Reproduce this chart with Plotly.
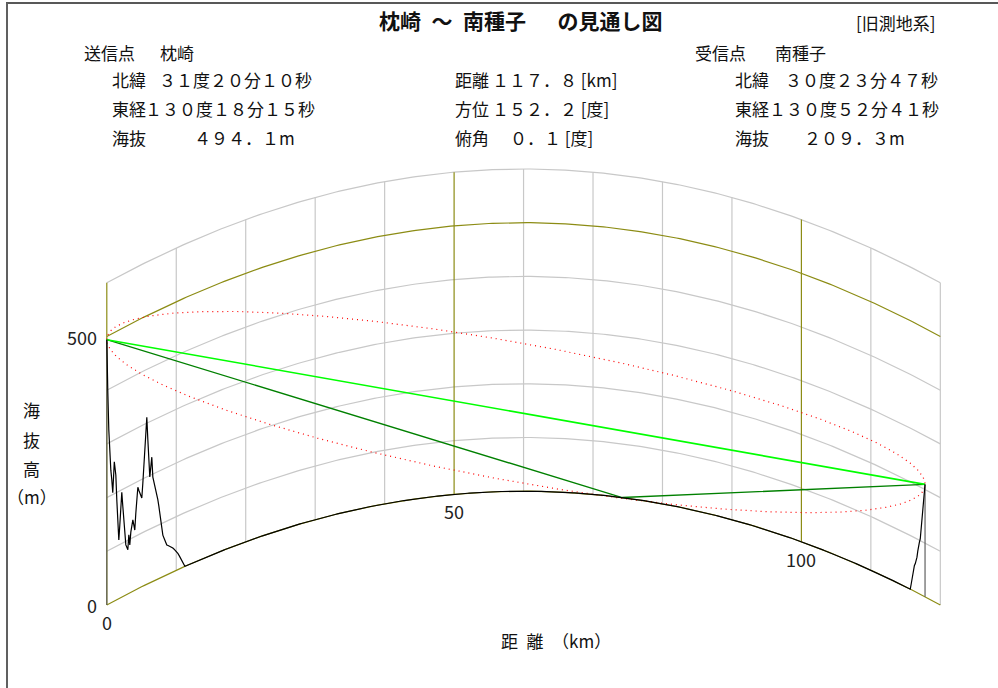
import math
import numpy as np
import plotly.graph_objects as go

# ---------------- data ----------------
path_km = 117.8            # 距離
tx_alt_m = 494.1           # 送信点 海抜
rx_alt_m = 209.3           # 受信点 海抜
freq_mhz = 520.0           # Fresnel zone frequency (estimated from ellipse size)
reflection_km = 74.2       # sea-reflection point of the dark-green path

terrain_km = [0.0, 0.07, 0.14, 0.29, 0.43, 0.58, 0.72, 0.86, 1.08, 1.30,
              1.44, 1.73, 2.02, 2.16, 2.45, 2.74, 3.03, 3.17, 3.31, 3.46,
              3.75, 4.03, 4.32, 4.47, 4.75, 5.04, 5.19, 5.47, 5.76, 5.91,
              6.19, 6.48, 6.63, 7.20, 7.64, 8.07, 8.64, 9.36, 9.80, 10.23,
              10.80, 11.24,
              115.67, 115.92, 116.15, 116.39, 116.64, 116.87, 117.11, 117.36,
              117.59, 117.73, 117.8]
terrain_m = [494.1, 422, 399, 324, 267, 247, 228, 203, 259, 233,
             186, 109, 163, 195, 141, 93, 82, 109, 89, 112,
             133, 112, 172, 189, 176, 165, 192, 252, 311, 268,
             197, 232, 194, 161, 121, 77, 55, 47, 39, 30,
             14, 0,
             0, 19, 44, 52, 66, 90, 103, 140,
             166, 185, 209.3]

grid_km = [0, 10, 20, 30, 40, 50, 60, 70, 80, 90, 100, 110, 120]
grid_m = [0, 100, 200, 300, 400, 500, 600]
major_km = [0, 50, 100]
major_m = [0, 500]
xtick_km = [0, 50, 100]
xtick_text = ["0", "50", "100"]
ytick_m = [0, 500]
ytick_text = ["0", "500"]

title_text = "<b>枕崎\u2002～\u2002南種子\u3000\u2002の見通し図</b>"
datum_text = "[旧測地系]"
tx_label = ("送信点", "枕崎")
rx_label = ("受信点", "南種子")
tx_rows = [("北緯", "３１度２０分１０秒"), ("東経", "１３０度１８分１５秒"), ("海抜", "４９４．１m")]
mid_rows = [("距離", "１１７．８ [km]"), ("方位", "１５２．２ [度]"), ("俯角", "０．１ [度]")]
rx_rows = [("北緯", "３０度２３分４７秒"), ("東経", "１３０度５２分４１秒"), ("海抜", "２０９．３m")]
ytitle_chars = ["海", "抜", "高", "（m）"]
xtitle_text = "距\u2002離\u2002（km）"

# ---------------- geometry / projection ----------------
W, H = 998, 688
PX_PER_KM = 6.946
X0_PX = 106.8
PX_PER_M = 0.537
Y0_PX = 605.0
SPAN_KM = grid_km[-1]
R_EFF_KM = 6370.0 * 4.0 / 3.0


def bulge(d):
    d = np.asarray(d, dtype=float)
    return d * (SPAN_KM - d) / (2.0 * R_EFF_KM) * 1000.0


def project(ds, hs, step=0.2):
    """Densify straight data segments so that they follow the curved earth."""
    xs, ys = [], []
    for i in range(len(ds) - 1):
        d0, d1, h0, h1 = ds[i], ds[i + 1], hs[i], hs[i + 1]
        n = max(1, int(math.ceil(abs(d1 - d0) / step)))
        t = np.linspace(0, 1, n, endpoint=False)
        dd = d0 + (d1 - d0) * t
        hh = h0 + (h1 - h0) * t
        xs.extend(dd.tolist())
        ys.extend((hh + bulge(dd)).tolist())
    xs.append(ds[-1])
    ys.append(float(hs[-1] + bulge(ds[-1])))
    return xs, ys


def px(x):
    return x / W


def py(y):
    return 1 - y / H


GREY = "#c8c8c8"
OLIVE = "#8c8c14"
FONT = "Noto Sans CJK JP"

fig = go.Figure()

# grid arcs
dd = np.linspace(0, SPAN_KM, 241)
gx, gy, ox, oy = [], [], [], []
for m in grid_m:
    tx_, ty_ = (ox, oy) if m in major_m else (gx, gy)
    tx_.extend(dd.tolist() + [None])
    ty_.extend((m + bulge(dd)).tolist() + [None])
for k in grid_km:
    tx_, ty_ = (ox, oy) if k in major_km else (gx, gy)
    b = float(bulge(k))
    tx_.extend([k, k, None])
    ty_.extend([b, b + grid_m[-1], None])
fig.add_trace(go.Scatter(x=gx, y=gy, mode="lines", line=dict(color=GREY, width=1.2),
                         hoverinfo="skip"))
fig.add_trace(go.Scatter(x=ox, y=oy, mode="lines", line=dict(color=OLIVE, width=1.2),
                         hoverinfo="skip"))

# line of sight
tx_disp = tx_alt_m + float(bulge(0))
rx_disp = rx_alt_m + float(bulge(path_km))

# Fresnel ellipse
lam = 299.792458 / freq_mhz
t = np.linspace(0, math.pi, 500)
fd = path_km * (1 - np.cos(t)) / 2
line_y = tx_disp + (rx_disp - tx_disp) * fd / path_km
r = np.sqrt(np.clip(lam * (fd * 1000) * ((path_km - fd) * 1000) / (path_km * 1000), 0, None))
fx = np.concatenate([fd, fd[::-1]])
fy = np.concatenate([line_y + r, (line_y - r)[::-1]])
fig.add_trace(go.Scatter(x=fx, y=fy, mode="lines",
                         line=dict(color="#ff0000", width=1.2, dash="1px,4px"),
                         hoverinfo="skip"))

# reflection path (dark green) and direct path (light green)
fig.add_trace(go.Scatter(x=[0, reflection_km, path_km],
                         y=[tx_disp, float(bulge(reflection_km)), rx_disp],
                         mode="lines", line=dict(color="#008000", width=1.4), hoverinfo="skip"))
fig.add_trace(go.Scatter(x=[0, path_km], y=[tx_disp, rx_disp], mode="lines",
                         line=dict(color="#00ff00", width=1.6), hoverinfo="skip"))

# terrain
txs, tys = project(terrain_km, terrain_m)
fig.add_trace(go.Scatter(x=[0, 0, None, path_km, path_km],
                         y=[float(bulge(0)), tx_disp, None, float(bulge(path_km)), rx_disp],
                         mode="lines", line=dict(color="#606060", width=1.2), hoverinfo="skip"))
fig.add_trace(go.Scatter(x=txs, y=tys, mode="lines", line=dict(color="#000000", width=1.2),
                         hoverinfo="skip"))

ann = []


def text(x, y, s, size=17, xanchor="left", color="#111111"):
    ann.append(dict(x=px(x), y=py(y), xref="paper", yref="paper", text=s,
                    showarrow=False, xanchor=xanchor, yanchor="middle",
                    font=dict(family=FONT, size=size, color=color)))


# tick labels on the curved axes
for k, s in zip(xtick_km, xtick_text):
    ann.append(dict(x=k, y=float(bulge(k)), xref="x", yref="y", text=s, showarrow=False,
                    xanchor="center", yanchor="middle", yshift=-17,
                    font=dict(family=FONT, size=18, color="#222222")))
for m, s in zip(ytick_m, ytick_text):
    ann.append(dict(x=0, y=m, xref="x", yref="y", text=s, showarrow=False,
                    xanchor="right", yanchor="middle", xshift=-8,
                    font=dict(family=FONT, size=18, color="#222222")))

# axis titles
for ch, yy in zip(ytitle_chars, [410, 439, 468, 497]):
    text(32, yy, ch, size=17, xanchor="center")
text(556, 640, xtitle_text, size=17, xanchor="center")

# header
text(521, 20, title_text, size=21, xanchor="center")
text(938, 22, datum_text, size=17, xanchor="right")
text(82, 52, tx_label[0]); text(158, 52, tx_label[1])
text(693, 52, rx_label[0]); text(773, 52, rx_label[1])
row_y = [80, 108, 137]
tx_val_x = [157, 143, 192]
mid_val_x = [490, 490, 508]
rx_val_x = [783, 767, 802]
for (a, b), yy, vx in zip(tx_rows, row_y, tx_val_x):
    text(110, yy, a); text(vx, yy, b)
for (a, b), yy, vx in zip(mid_rows, row_y, mid_val_x):
    text(453, yy, a); text(vx, yy, b)
for (a, b), yy, vx in zip(rx_rows, row_y, rx_val_x):
    text(733, yy, a); text(vx, yy, b)

shapes = [
    dict(type="line", xref="paper", yref="paper", x0=px(6), x1=1, y0=py(3), y1=py(3),
         line=dict(color="#202020", width=1.5)),
    dict(type="line", xref="paper", yref="paper", x0=px(7), x1=px(7), y0=py(3), y1=0,
         line=dict(color="#606060", width=2)),
]

fig.update_layout(
    width=W, height=H, margin=dict(l=0, r=0, t=0, b=0, pad=0),
    paper_bgcolor="white", plot_bgcolor="white", showlegend=False,
    xaxis=dict(range=[-X0_PX / PX_PER_KM, (W - X0_PX) / PX_PER_KM], visible=False,
               fixedrange=True),
    yaxis=dict(range=[(Y0_PX - H) / PX_PER_M, Y0_PX / PX_PER_M], visible=False,
               fixedrange=True),
    annotations=ann, shapes=shapes,
)

fig.write_html("out.html", config={"displayModeBar": False},
               post_script="document.body.style.margin='0';")
